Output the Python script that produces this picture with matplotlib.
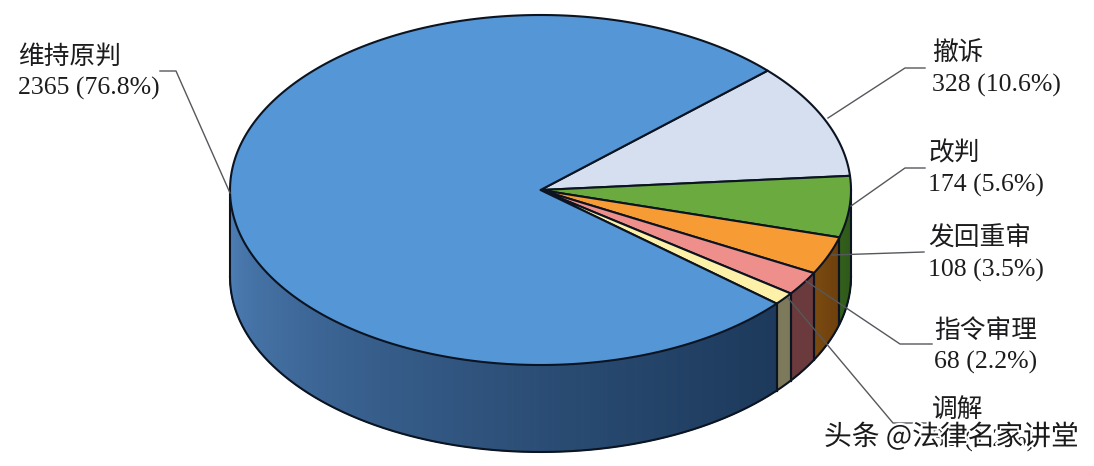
import numpy as np
import matplotlib
matplotlib.use("Agg")
import matplotlib.pyplot as plt
import matplotlib.patheffects as pe
from matplotlib.colors import to_rgb
from matplotlib.patches import Polygon

categories = ["撤诉", "改判", "发回重审", "指令审理", "调解", "维持原判"]
values = [328, 174, 108, 68, 36, 2365]
percents = ["10.6%", "5.6%", "3.5%", "2.2%", "1.2%", "76.8%"]
top_colors = ["#d6dff0", "#6aaa3f", "#f79c35", "#ee8f8c", "#fdf0a8", "#5596d6"]
side_dark = ["#8a93a5", "#2d5518", "#6d400d", "#6b3a3c", "#7d7a5c", "#1d3a5c"]
side_light = ["#8a93a5", "#33601c", "#7a4a10", "#6b3a3c", "#7d7a5c", "#4f80b8"]

CX, CY, RX, RY, DEPTH = 540.5, 190, 310.5, 175, 87
START = 43
EDGE = "#0b1420"
LW = 1.5

plt.rcParams["font.family"] = ["Liberation Serif", "Noto Sans CJK SC"]
fig = plt.figure(figsize=(10.94, 4.66), dpi=100)
ax = fig.add_axes([0, 0, 1, 1])
ax.set_xlim(0, 1094)
ax.set_ylim(466, 0)
ax.axis("off")


def rim(a, dy=0.0):
    a = np.radians(a)
    return CX + RX * np.cos(a), CY - RY * np.sin(a) + dy


fractions = np.asarray(values) / np.sum(values)
bounds = START - np.concatenate([[0], np.cumsum(fractions)]) * 360

# Side wall: only the front half (angles -180..0) is visible
for i in range(len(values)):
    hi, lo = min(bounds[i], 0), max(bounds[i + 1], -180)
    if hi <= lo:
        continue
    n = max(2, int((hi - lo) * 4))
    edges = np.linspace(hi, lo, n + 1)
    c0, c1 = np.array(to_rgb(side_dark[i])), np.array(to_rgb(side_light[i]))
    for k in range(n):
        t = (k / max(1, n - 1)) ** 1.25
        col = c0 + (c1 - c0) * t
        arc = np.linspace(edges[k], edges[k + 1], 4)
        x, y = rim(arc)
        pts = np.vstack([np.c_[x, y], np.c_[x[::-1], y[::-1] + DEPTH]])
        ax.add_patch(Polygon(pts, closed=True, fc=col, ec=col, lw=0.8, zorder=1))
    x, y = rim(np.array([hi, lo]))
    for xi, yi, a in zip(x, y, [hi, lo]):
        if -180 < a < 0:
            ax.plot([xi, xi], [yi, yi + DEPTH], color=EDGE, lw=LW, zorder=2)

# Side wall outer outline
arc = np.linspace(-180, 0, 300)
x, y = rim(arc)
ax.plot(x, y + DEPTH, color=EDGE, lw=LW, zorder=2)
for a in (-180, 0):
    xi, yi = rim(a)
    ax.plot([xi, xi], [yi, yi + DEPTH], color=EDGE, lw=LW, zorder=2)

# Top face
for i in range(len(values)):
    arc = np.linspace(bounds[i], bounds[i + 1], 300)
    x, y = rim(arc)
    pts = np.vstack([[CX, CY], np.c_[x, y]])
    ax.add_patch(Polygon(pts, closed=True, fc=top_colors[i], ec=EDGE, lw=LW,
                         joinstyle="round", zorder=3))

# Leader lines
leaders = {
    "维持原判": [(160, 71), (176, 71), (230, 193)],
    "撤诉": [(925, 68), (905, 68), (828, 118)],
    "改判": [(925, 168), (905, 168), (851, 206)],
    "发回重审": [(924, 252), (832, 255)],
    "指令审理": [(932, 344), (900, 344), (806, 281)],
    "调解": [(928, 423), (893, 423), (788, 298)],
}
for pts in leaders.values():
    xs, ys = zip(*pts)
    ax.plot(xs, ys, color="#55585c", lw=1.0, zorder=4)

# Labels
label_pos = {
    "维持原判": (18, 73),
    "撤诉": (932, 69),
    "改判": (928, 169),
    "发回重审": (928, 254),
    "指令审理": (934, 347),
    "调解": (932, 425),
}
for name, val, pct in zip(categories, values, percents):
    lx, ly = label_pos[name]
    ax.text(lx, ly, f"{name}\n{val} ({pct})", fontsize=18.5, color="#1c1c1e",
            ha="left", va="center", linespacing=1.45, zorder=5)

# Watermark
ax.text(824, 437, "头条 @法律名家讲堂", fontsize=20, color="#1a1a1a",
        family=["Noto Sans CJK SC", "DejaVu Sans"], ha="left", va="center", zorder=6,
        path_effects=[pe.withStroke(linewidth=3, foreground="white")])

fig.savefig("out.png", dpi=100, facecolor="white")
